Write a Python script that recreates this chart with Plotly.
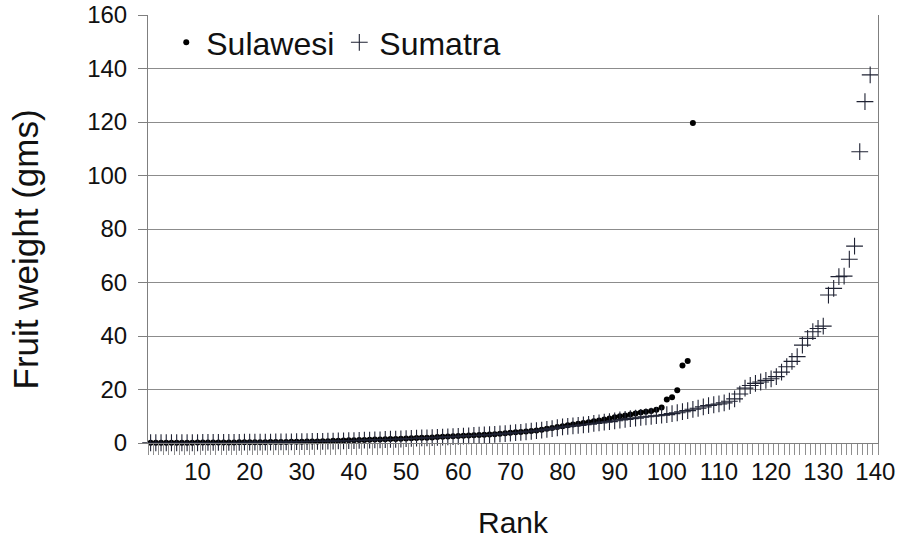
import plotly.graph_objects as go

# Fruit weight (gms) of individual fruits, sorted by rank
sulawesi = [
    0.1, 0.1, 0.1, 0.1, 0.1, 0.1, 0.1, 0.1, 0.1, 0.2,
    0.2, 0.2, 0.2, 0.2, 0.2, 0.2, 0.2, 0.3, 0.3, 0.3,
    0.3, 0.3, 0.3, 0.4, 0.4, 0.4, 0.4, 0.5, 0.5, 0.5,
    0.6, 0.6, 0.6, 0.7, 0.7, 0.8, 0.8, 0.9, 1.0, 1.0,
    1.1, 1.1, 1.2, 1.3, 1.3, 1.4, 1.5, 1.5, 1.6, 1.7,
    1.8, 1.9, 2.0, 2.0, 2.1, 2.2, 2.3, 2.4, 2.5, 2.6,
    2.7, 2.8, 2.9, 3.0, 3.1, 3.2, 3.3, 3.5, 3.6, 3.8,
    4.0, 4.1, 4.3, 4.5, 4.7, 5.0, 5.3, 5.6, 6.0, 6.3,
    6.6, 6.9, 7.2, 7.5, 7.8, 8.1, 8.4, 8.8, 9.2, 9.6,
    10.0, 10.3, 10.7, 11.0, 11.4, 11.7, 12.0, 12.4, 13.3, 16.3,
    17.1, 19.7, 29.0, 30.7, 119.6,
]

sumatra = [
    0.1, 0.1, 0.1, 0.1, 0.1, 0.1, 0.1, 0.1, 0.1, 0.1,
    0.2, 0.2, 0.2, 0.2, 0.2, 0.2, 0.2, 0.2, 0.3, 0.3,
    0.3, 0.3, 0.3, 0.3, 0.4, 0.4, 0.4, 0.4, 0.5, 0.5,
    0.5, 0.6, 0.6, 0.6, 0.7, 0.7, 0.8, 0.8, 0.9, 0.9,
    1.0, 1.1, 1.1, 1.2, 1.2, 1.3, 1.4, 1.4, 1.5, 1.6,
    1.7, 1.8, 1.9, 1.9, 2.0, 2.1, 2.2, 2.3, 2.4, 2.5,
    2.6, 2.7, 2.8, 2.9, 3.0, 3.1, 3.2, 3.4, 3.5, 3.7,
    3.9, 4.0, 4.2, 4.4, 4.6, 4.8, 5.1, 5.4, 5.7, 6.0,
    6.2, 6.4, 6.6, 6.8, 7.0, 7.3, 7.5, 7.8, 8.0, 8.3,
    8.6, 8.8, 9.1, 9.3, 9.6, 9.8, 10.0, 10.2, 10.4, 10.6,
    11.0, 11.3, 11.7, 12.1, 12.6, 13.0, 13.5, 14.0, 14.3, 14.6,
    15.0, 15.6, 16.5, 18.3, 20.5, 21.5, 22.3, 22.8, 23.4, 24.0,
    24.8, 26.5, 28.5, 30.5, 32.3, 36.6, 39.1, 41.6, 42.8, 43.7,
    55.3, 57.8, 62.2, 62.4, 68.7, 73.6, 108.9, 127.6, 137.6,
]

rank_labels = [10, 20, 30, 40, 50, 60, 70, 80, 90, 100, 110, 120, 130, 140]
weight_ticks = [0, 20, 40, 60, 80, 100, 120, 140, 160]
n_ranks = 140

FONT = "Liberation Sans, Arial, sans-serif"
AXIS_GREY = "#7f7f7f"

fig = go.Figure()

fig.add_trace(go.Scatter(
    x=list(range(1, len(sulawesi) + 1)),
    y=sulawesi,
    mode="markers",
    name="Sulawesi",
    marker=dict(symbol="circle", size=6, color="#000000"),
    cliponaxis=False,
))

fig.add_trace(go.Scatter(
    x=list(range(1, len(sumatra) + 1)),
    y=sumatra,
    mode="markers",
    name="Sumatra",
    marker=dict(symbol="cross-thin", size=12,
                line=dict(color="#1f2233", width=1.1)),
    cliponaxis=False,
))

fig.update_layout(
    width=905,
    height=543,
    paper_bgcolor="white",
    plot_bgcolor="white",
    margin=dict(l=148, r=27, t=15, b=100, autoexpand=False),
    font=dict(family=FONT, color="#111111"),
    showlegend=True,
    legend=dict(
        orientation="h",
        x=0.025, y=1.0, xanchor="left", yanchor="top",
        bgcolor="rgba(0,0,0,0)",
        font=dict(size=32, family=FONT, color="#111111"),
        itemsizing="trace",
        itemwidth=30,
        tracegroupgap=0,
    ),
)

# vertical axis title, set slightly below the plot's mid-height
fig.add_annotation(
    text="Fruit weight (gms)",
    xref="paper", yref="paper",
    x=-0.168, y=0.453,
    xanchor="center", yanchor="middle",
    textangle=-90,
    showarrow=False,
    font=dict(size=35, family=FONT, color="#111111"),
)

fig.update_xaxes(
    range=[0.5, n_ranks + 0.5],
    tickmode="array",
    tickvals=rank_labels,
    ticktext=[str(v) for v in rank_labels],
    ticks="outside",
    ticklen=7,
    tickcolor="rgba(0,0,0,0)",
    tickfont=dict(size=24, family=FONT, color="#111111"),
    minor=dict(ticks="outside", tick0=0.5, dtick=1, ticklen=11,
               tickcolor="#8f8f8f", tickwidth=1, showgrid=False),
    showgrid=False,
    zeroline=False,
    showline=True,
    linecolor=AXIS_GREY,
    linewidth=1,
    automargin=False,
    title=dict(text="Rank", font=dict(size=30, family=FONT, color="#111111"),
               standoff=28),
)

fig.update_yaxes(
    range=[0, 160],
    tickmode="array",
    tickvals=weight_ticks,
    ticks="outside",
    ticklen=9,
    tickcolor=AXIS_GREY,
    ticklabelstandoff=6,
    tickfont=dict(size=24, family=FONT, color="#111111"),
    showgrid=True,
    gridcolor="#8c8c8c",
    gridwidth=1,
    zeroline=False,
    showline=True,
    linecolor=AXIS_GREY,
    linewidth=1,
    mirror=True,
    automargin=False,
)

fig.write_html("out.html")
